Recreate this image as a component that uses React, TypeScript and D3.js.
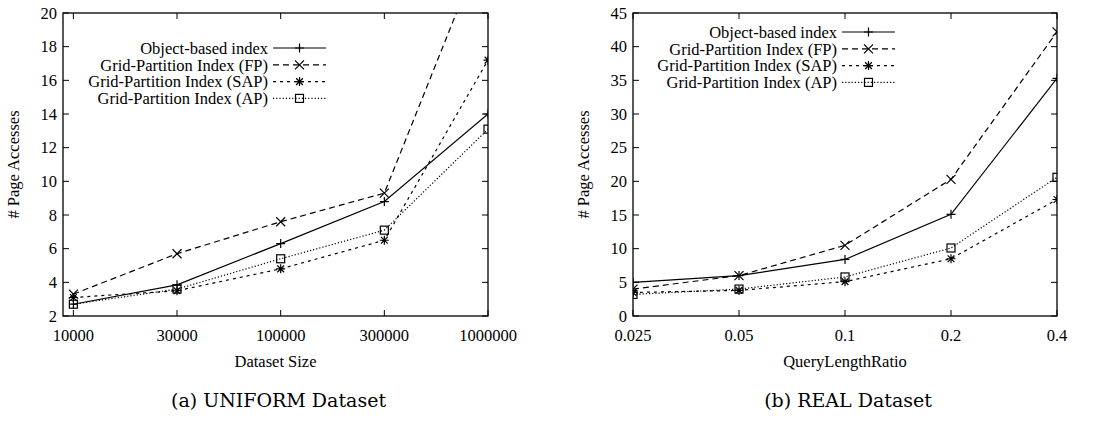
import React from "react";
import * as d3 from "d3";

const sizeLabels = ["10000", "30000", "100000", "300000", "1000000"];
const sizeIndex = [1, 2, 3, 4, 5];
const uniObject = [2.7, 3.85, 6.3, 8.8, 14.0];
const uniFP = [3.3, 5.7, 7.6, 9.3, 24.7];
const uniSAP = [3.1, 3.5, 4.8, 6.5, 17.2];
const uniAP = [2.7, 3.6, 5.4, 7.1, 13.1];

const ratios = [0.025, 0.05, 0.1, 0.2, 0.4];
const ratioLabels = ["0.025", "0.05", "0.1", "0.2", "0.4"];
const realObject = [5.0, 6.0, 8.4, 15.1, 35.3];
const realFP = [4.0, 6.0, 10.5, 20.3, 42.2];
const realSAP = [3.5, 3.8, 5.1, 8.5, 17.3];
const realAP = [3.2, 4.0, 5.8, 10.1, 20.6];

const seriesNames = [
  "Object-based index",
  "Grid-Partition Index (FP)",
  "Grid-Partition Index (SAP)",
  "Grid-Partition Index (AP)",
];
const dashes = ["none", "6,4", "3,4", "1.2,2"];
const markers = ["plus", "cross", "star", "square"];

const uniTicks = d3.range(2, 21, 2);
const realTicks = d3.range(0, 46, 5);

const FONT = "Liberation Serif, Tinos, Times New Roman, DejaVu Serif, serif";
const FS = 16.5;

function Marker({ type, x, y }: { type: string; x: number; y: number }) {
  const s = 4.5;
  const st = { stroke: "#000", strokeWidth: 1.2, fill: "none" } as const;
  if (type === "plus")
    return <path d={`M${x - s},${y}H${x + s}M${x},${y - s}V${y + s}`} {...st} />;
  if (type === "cross")
    return (
      <path
        d={`M${x - s},${y - s}L${x + s},${y + s}M${x - s},${y + s}L${x + s},${y - s}`}
        {...st}
      />
    );
  if (type === "star")
    return (
      <path
        d={`M${x - s},${y}H${x + s}M${x},${y - s}V${y + s}M${x - s * 0.75},${y - s * 0.75}L${x + s * 0.75},${y + s * 0.75}M${x - s * 0.75},${y + s * 0.75}L${x + s * 0.75},${y - s * 0.75}`}
        {...st}
      />
    );
  return <rect x={x - 4} y={y - 4} width={8} height={8} {...st} />;
}

type PanelProps = {
  id: string;
  x0: number;
  x1: number;
  xScale: (v: number) => number;
  xs: number[];
  xLabels: string[];
  yDomain: [number, number];
  yTicks: number[];
  series: number[][];
  xTitle: string;
  caption: string;
  legendRight: number;
  legendTop: number;
};

const tStyle = { fontFamily: FONT, fontSize: FS } as const;

function Panel(p: PanelProps) {
  const y0 = 13;
  const y1 = 316;
  const y = d3.scaleLinear().domain(p.yDomain).range([y1, y0]);
  const line = d3
    .line<[number, number]>()
    .x((d) => p.xScale(d[0]))
    .y((d) => y(d[1]));
  const tl = 6;
  const cx = (p.x0 + p.x1) / 2;
  return (
    <g fill="#000">
      <defs>
        <clipPath id={p.id}>
          <rect x={p.x0} y={y0} width={p.x1 - p.x0} height={y1 - y0} />
        </clipPath>
      </defs>
      {p.yTicks.map((t) => (
        <g key={"y" + t}>
          <line x1={p.x0} x2={p.x0 + tl} y1={y(t)} y2={y(t)} stroke="#000" strokeWidth={1} />
          <line x1={p.x1} x2={p.x1 - tl} y1={y(t)} y2={y(t)} stroke="#000" strokeWidth={1} />
          <text x={p.x0 - 6} y={y(t)} dy="0.35em" textAnchor="end" style={tStyle}>
            {t}
          </text>
        </g>
      ))}
      {p.xs.map((v, i) => (
        <g key={"x" + i}>
          <line x1={p.xScale(v)} x2={p.xScale(v)} y1={y1} y2={y1 - tl} stroke="#000" strokeWidth={1} />
          <line x1={p.xScale(v)} x2={p.xScale(v)} y1={y0} y2={y0 + tl} stroke="#000" strokeWidth={1} />
          <text x={p.xScale(v)} y={y1 + 25} textAnchor="middle" style={tStyle}>
            {p.xLabels[i]}
          </text>
        </g>
      ))}
      <g clipPath={`url(#${p.id})`}>
        {p.series.map((vals, si) => (
          <g key={"s" + si}>
            <path
              d={line(vals.map((v, i) => [p.xs[i], v] as [number, number])) || ""}
              fill="none"
              stroke="#000"
              strokeWidth={1.2}
              strokeDasharray={dashes[si]}
            />
            {vals.map((v, i) => (
              <Marker key={i} type={markers[si]} x={p.xScale(p.xs[i])} y={y(v)} />
            ))}
          </g>
        ))}
      </g>
      <rect x={p.x0} y={y0} width={p.x1 - p.x0} height={y1 - y0} fill="none" stroke="#000" strokeWidth={1.3} />
      {seriesNames.map((n, i) => {
        const ly = p.legendTop + i * 16.8;
        return (
          <g key={"l" + i}>
            <text x={p.legendRight} y={ly} dy="0.35em" textAnchor="end" style={tStyle}>
              {n}
            </text>
            <line
              x1={p.legendRight + 5}
              x2={p.legendRight + 58}
              y1={ly}
              y2={ly}
              stroke="#000"
              strokeWidth={1.2}
              strokeDasharray={dashes[i]}
            />
            <Marker type={markers[i]} x={p.legendRight + 31.5} y={ly} />
          </g>
        );
      })}
      <text
        transform={`translate(${p.x0 - 44},${(y0 + y1) / 2}) rotate(-90)`}
        textAnchor="middle"
        style={tStyle}
      >
        # Page Accesses
      </text>
      <text x={cx} y={367} textAnchor="middle" style={tStyle}>
        {p.xTitle}
      </text>
      <text
        x={cx + 3}
        y={407}
        textAnchor="middle"
        style={{ fontFamily: "DejaVu Serif, serif", fontSize: 19 }}
      >
        {p.caption}
      </text>
    </g>
  );
}

export default function App() {
  const xLeft = d3.scaleLinear().domain([0.9, 5]).range([63, 488]);
  const xRight = d3.scaleLog().base(2).domain([0.025, 0.4]).range([633, 1057]);
  return (
    <div style={{ position: "absolute", left: 0, top: 0 }}>
      <svg width={1102} height={421} style={{ display: "block", background: "#fff" }}>
        <Panel
          id="clipA"
          x0={63}
          x1={488}
          xScale={xLeft}
          xs={sizeIndex}
          xLabels={sizeLabels}
          yDomain={[2, 20]}
          yTicks={uniTicks}
          series={[uniObject, uniFP, uniSAP, uniAP]}
          xTitle="Dataset Size"
          caption="(a) UNIFORM Dataset"
          legendRight={268}
          legendTop={48}
        />
        <Panel
          id="clipB"
          x0={633}
          x1={1057}
          xScale={xRight}
          xs={ratios}
          xLabels={ratioLabels}
          yDomain={[0, 45]}
          yTicks={realTicks}
          series={[realObject, realFP, realSAP, realAP]}
          xTitle="QueryLengthRatio"
          caption="(b) REAL Dataset"
          legendRight={837}
          legendTop={32}
        />
      </svg>
    </div>
  );
}
